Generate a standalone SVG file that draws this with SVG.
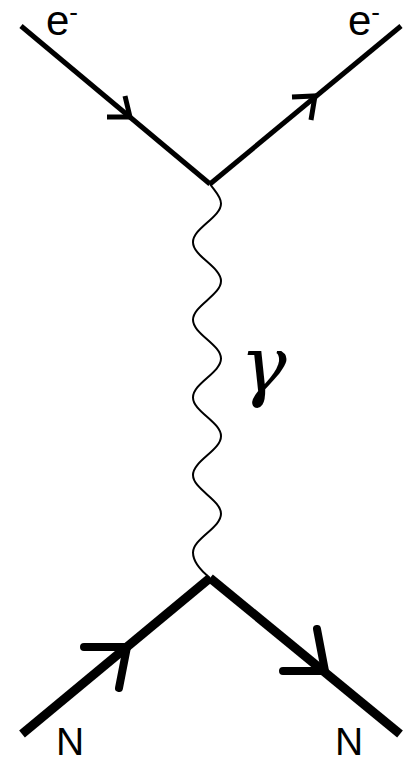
<svg xmlns="http://www.w3.org/2000/svg" width="415" height="759" viewBox="0 0 415 759">
<style>
.e{fill:none;stroke:#000;stroke-width:5;stroke-linecap:butt;stroke-linejoin:miter}
.n{fill:none;stroke:#000;stroke-width:9;stroke-linecap:butt;stroke-linejoin:miter}
.na{fill:none;stroke:#000;stroke-width:8;stroke-linecap:round}
.w{fill:none;stroke:#000;stroke-width:2}
.lbl{font-family:"Liberation Sans","DejaVu Sans",sans-serif;fill:#000}
</style>
<rect width="415" height="759" fill="#fff"/>
<g id="connectors">
<path id="e-in" class="e" d="M21,26 L210,184"/>
<path class="e" d="M107,117 L130,117 L125,96"/>
<path id="e-out" class="e" d="M210,184 L401,26"/>
<path class="e" d="M292,97 L315,96 L311,120"/>
<path id="photon" class="w" d="M210,184 C214.17,190.32 221,196.38 221,203.4 C221,210.42 214.17,216.48 207,222.8 C199.83,229.12 193,235.18 193,242.2 C193,249.22 199.83,255.28 207,261.6 C214.17,267.92 221,273.98 221,281 C221,288.02 214.17,294.08 207,300.4 C199.83,306.72 193,312.78 193,319.8 C193,326.82 199.83,332.88 207,339.2 C214.17,345.52 221,351.58 221,358.6 C221,365.62 214.17,371.68 207,378 C199.83,384.32 193,390.38 193,397.4 C193,404.42 199.83,410.48 207,416.8 C214.17,423.12 221,429.18 221,436.2 C221,443.22 214.17,449.28 207,455.6 C199.83,461.92 193,467.98 193,475 C193,482.02 199.83,488.08 207,494.4 C214.17,500.72 221,506.78 221,513.8 C221,520.82 214.17,526.88 207,533.2 C199.83,539.52 193,545.58 193,552.6 C193,561 200,570 210,578"/>
<path id="n-in" class="n" d="M22,734 L210,578"/>
<path class="na" d="M84,647 L127,647 L119,688"/>
<path id="n-out" class="n" d="M210,578 L400,734"/>
<path class="na" d="M283,671 L325,671 L317,629"/>
</g>
<g id="label-e-in"><text class="lbl" x="46" y="35" font-size="42">e<tspan font-size="26" dy="-14">-</tspan></text></g>
<g id="label-e-out"><text class="lbl" x="348" y="35" font-size="42">e<tspan font-size="26" dy="-14">-</tspan></text></g>
<g id="label-gamma"><text x="240" y="392" font-family="'DejaVu Serif',serif" font-style="italic" font-size="78" fill="#000">γ</text></g>
<g id="label-n-in"><text class="lbl" x="56" y="755" font-size="39">N</text></g>
<g id="label-n-out"><text class="lbl" x="335" y="755" font-size="39">N</text></g>
</svg>
